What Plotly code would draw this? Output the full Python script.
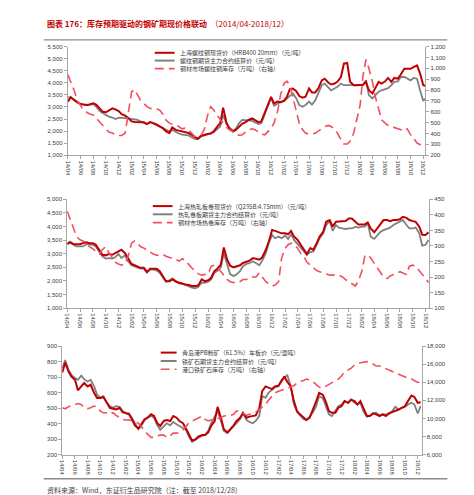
import plotly.graph_objects as go

W, H = 474, 495

# ---------------- categories (semi-monthly dates, 2014/04 - 2018/12) ----------------
month_list = [(2014 + (3 + k) // 12, (3 + k) % 12 + 1) for k in range(57)]
dates = [f"{y}-{m:02d}-{d:02d}" for (y, m) in month_list for d in (1, 15)]

# ---------------- panel 1: rebar ----------------
rebar_spot = [3220,3390, 3300,3200, 3120,3100, 3080,3100, 3150,3100, 2950,2800, 2780,2850, 2940,2900,
              2830,2700, 2640,2550, 2400,2380, 2380,2400, 2370,2290, 2370,2330, 2260,2200, 2120,2000,
              1920,2150, 2050,2020, 1985,1950, 1920,1850, 1750,1680, 1810,1850, 1880,1900, 1985,2150,
              2330,2970, 2350,2100, 1985,2050, 2190,2300, 2370,2460, 2530,2450, 2370,2400, 2800,3080,
              3420,3150, 3220,3200, 3260,3420, 3740,3760, 3650,3450, 3380,3420, 3760,3600, 3600,3760,
              4100,4170, 4010,3930, 3970,4040, 4240,4790, 4820,4040, 3900,3900, 3900,3920, 4040,3690,
              3560,3760, 4040,3970, 4060,4200, 4040,4200, 4170,4340, 4580,4580, 4580,4650, 4720,4400,
              3900,3870]
rebar_futures = [3380,3420, 3280,3200, 3120,3100, 3080,3100, 3120,3010, 2830,2750, 2670,2600, 2560,2500,
                 2560,2560, 2530,2530, 2500,2480, 2460,2400, 2330,2290, 2370,2330, 2290,2200, 2120,2050,
                 1985,2050, 1960,1900, 1850,1830, 1820,1750, 1680,1660, 1780,1820, 1850,1900, 1960,2050,
                 2190,2670, 2300,2150, 2010,2100, 2330,2460, 2460,2440, 2420,2350, 2290,2320, 2700,3010,
                 3380,3050, 3150,3200, 3240,3350, 3420,3560, 3350,3080, 3010,3080, 3220,3100, 3280,3560,
                 3900,3970, 3830,3690, 3760,3830, 3970,3900, 3900,3900, 3900,3900, 3900,3920, 4100,3490,
                 3350,3490, 3630,3690, 3740,3780, 3900,4040, 4060,4240, 4240,4170, 4100,4200, 4170,3700,
                 3250,3380]
rebar_stock = [942,875, 799,708, 662,616, 595,580, 571,540, 504,470, 434,413, 404,388,
               382,382, 404,580, 784,805, 753,708, 677,647, 632,626, 626,616, 577,525,
               495,486, 474,464, 443,449, 434,404, 373,373, 388,434, 571,647, 616,571,
               525,495, 455,434, 419,404, 382,388, 413,434, 443,435, 413,394, 388,419,
               449,495, 601,753, 860,881, 844,738, 616,495, 434,404, 394,394, 404,425,
               449,464, 474,464, 443,404, 343,303, 303,328, 404,510, 662,936, 1081,1000,
               875,738, 616,525, 495,474, 464,455, 449,434, 425,443, 388,358, 312,297,
               312,322]

# ---------------- panel 2: hot rolled coil ----------------
hrc_spot = [3350,3420, 3350,3350, 3350,3390, 3420,3390, 3390,3330, 3145,2960, 2940,2990, 2960,3020,
            3085,3145, 3020,2840, 2625,2575, 2540,2480, 2480,2330, 2450,2450, 2450,2360, 2175,1990,
            1990,2055, 1970,1930, 1900,1870, 1850,1810, 1810,1830, 2055,1990, 2020,2115, 2360,2450,
            2600,3230, 2780,2560, 2500,2540, 2575,2660, 2700,2745, 2840,2800, 2780,2870, 3145,3450,
            3870,3840, 3790,3750, 3750,3715, 3840,3630, 3510,3330, 3145,2990, 3210,3145, 3390,3630,
            3810,4175, 4240,3995, 4175,4175, 4175,4200, 4300,4300, 4175,4080, 4080,4080, 4150,3930,
            3790,3930, 4115,4240, 4240,4200, 4240,4240, 4270,4360, 4320,4240, 4200,4175, 3995,3700,
            3690,3790]
hrc_futures = [3390,3450, 3330,3270, 3270,3270, 3350,3330, 3330,3270, 3085,2900, 2820,2840, 2820,2870,
               2990,2840, 2940,2720, 2575,2540, 2500,2450, 2450,2300, 2420,2420, 2380,2300, 2115,1970,
               2020,2090, 1990,1900, 1900,1850, 1810,1750, 1730,1775, 1930,1930, 1970,2055, 2300,2360,
               2500,3020, 2600,2250, 2175,2240, 2360,2540, 2625,2650, 2720,2650, 2575,2745, 3020,3390,
               3690,3570, 3630,3570, 3670,3545, 3715,3510, 3350,3210, 3060,2960, 3060,3085, 3330,3570,
               3750,4055, 4200,3840, 4055,3960, 3930,3910, 3930,3930, 3995,3960, 3995,3995, 4115,3630,
               3545,3690, 3810,3870, 3910,3960, 4055,4115, 4200,4240, 4055,3930, 3930,3960, 3750,3300,
               3330,3510]
hrc_stock = [412,383, 357,330, 320,316, 309,298, 291,282, 274,288, 298,280, 263,248,
             242,238, 242,265, 309,316, 309,298, 293,288, 280,274, 270,271, 272,267,
             263,261, 256,251, 259,253, 238,229, 219,210, 206,208, 210,235, 238,232,
             219,206, 192,185, 182,187, 185,192, 192,198, 200,200, 213,200, 185,178,
             171,174, 185,261, 293,304, 309,304, 293,277, 267,248, 238,232, 221,217,
             213,208, 206,206, 208,206, 200,192, 185,178, 171,187, 219,267, 272,261,
             245,229, 213,200, 195,203, 208,213, 217,213, 208,235, 238,235, 219,208,
             198,182]

# ---------------- panel 3: iron ore ----------------
ore_spot = [730,794, 736,704, 683,615, 640,662, 640,651, 598,566, 566,572, 534,502,
            496,491, 502,474, 466,460, 428,389, 368,396, 428,438, 460,449, 402,385,
            417,423, 417,449, 438,417, 402,368, 321,289, 300,317, 326,326, 343,385,
            417,508, 438,364, 343,364, 389,417, 438,470, 438,445, 449,453, 500,610,
            640,630, 623,640, 645,672, 704,670, 640,550, 481,460, 438,423, 438,481,
            545,598, 587,545, 481,470, 470,502, 513,545, 534,555, 545,523, 545,502,
            449,449, 466,460, 449,460, 449,466, 474,481, 491,502, 513,545, 581,572,
            534,538]
ore_futures = [757,811, 747,715, 694,683, 709,687, 672,683, 640,587, 566,577, 534,513,
               502,513, 508,481, 470,466, 438,402, 364,385, 423,438, 449,438, 389,360,
               385,402, 389,411, 396,385, 374,360, 311,283, 296,311, 321,326, 353,402,
               445,481, 417,353, 338,360, 381,406, 428,466, 423,411, 402,417, 450,577,
               566,598, 619,636, 640,683, 694,715, 640,530, 474,453, 428,423, 449,470,
               513,577, 566,513, 460,449, 481,513, 523,545, 534,555, 534,523, 534,481,
               445,449, 466,470, 453,460, 460,460, 481,508, 491,502, 508,523, 534,523,
               465,513]
ore_stock = [11180,11070, 11290,11435, 11545,11655, 11545,11180, 11070,11180, 11360,11300, 10815,10630, 10630,10450,
             10630,10340, 10085,9900, 9830,9850, 9720,9610, 9465,9100, 8625,8260, 7900,7900, 8080,8150,
             8150,7900, 8080,8370, 8370,8445, 8735,9100, 9540,9720, 9900,10085, 10265,9900, 9720,9830,
             9900,9975, 10085,10265, 10265,10340, 10450,10815, 10800,10550, 10340,10450, 10560,10705, 11000,11270,
             11545,12020, 12455,12820, 13000,13110, 13260,13370, 13550,13620, 13915,14100, 14205,14355, 14280,14100,
             13735,13475, 13370,13550, 13735,13915, 14100,14355, 14715,15190, 15375,15555, 15920,16100, 16175,16250,
             16285,16250, 16030,15810, 15810,15665, 15555,15375, 15190,15080, 14825,14715, 14570,14460, 14355,14205,
             13990,14100]

# ---------------- texts ----------------
title_text = "<b>图表 176：库存预期驱动的钢矿期现价格联动</b>  （2014/04-2018/12）"
source_text = "资料来源：Wind，东证衍生品研究院（注：截至 2018/12/28）"
names_1 = ["上海螺纹钢现货价（HRB400 20mm）（元/吨）", "螺纹钢期货主力合约结算价（元/吨）", "钢材市场螺纹钢库存（万吨）（右轴）"]
names_2 = ["上海热轧板卷现货价（Q235B:4.75mm）（元/吨）", "热轧卷板期货主力合约结算价（元/吨）", "钢材市场热卷库存（万吨）（右轴）"]
names_3 = ["青岛港PB粉矿（61.5%）车板价（元/湿吨）", "铁矿石期货主力合约结算价（元/吨）", "港口铁矿石库存（万吨）（右轴）"]

RED = "#C00000"
GRAY = "#808080"
PINK = "#F0505F"
AX = "#A6A6A6"
TXT = "#404040"
NUMFONT = "Liberation Sans, Arial, Noto Sans CJK SC, sans-serif"
CJK = "Noto Sans CJK SC, Liberation Sans, sans-serif"
DASH = "9px,5px"

panels = [
    dict(spot=rebar_spot, fut=rebar_futures, inv=rebar_stock, names=names_1,
         xpx=(57.3, 417.7), ypx=(36.0, 146.0), xend="2018-12-10",
         yl=(1000, 5500), yldt=500, yr=(200, 1200), yrdt=100,
         leg_x=(145, 165), leg_tx=168, leg_y=(42.3, 50.2, 58.3)),
    dict(spot=hrc_spot, fut=hrc_futures, inv=hrc_stock, names=names_2,
         xpx=(56.7, 421.7), ypx=(190.7, 300.7), xend="2018-12-18",
         yl=(1000, 5000), yldt=500, yr=(100, 450), yrdt=50,
         leg_x=(143, 163), leg_tx=166, leg_y=(197.5, 205.8, 214.2)),
    dict(spot=ore_spot, fut=ore_futures, inv=ore_stock, names=names_3,
         xpx=(51.7, 414.0), ypx=(339.3, 449.0), xend="2018-12-19",
         yl=(200, 900), yldt=100, yr=(6000, 18000), yrdt=2000,
         leg_x=(151, 167), leg_tx=170, leg_y=(345.8, 354.3, 362.7)),
]

fig = go.Figure()
axis_common = dict(showline=True, linecolor=AX, linewidth=1, ticks="outside", tickcolor=AX,
                   ticklen=3, tickwidth=1, showgrid=False, zeroline=False,
                   tickfont=dict(size=6, color=TXT, family=NUMFONT), fixedrange=True)
layout_axes = {}
shapes = []
annotations = []

for i, p in enumerate(panels, start=1):
    xa = "x" if i == 1 else f"x{i}"
    ylk = "y" if i == 1 else f"y{2*i-1}"
    yrk = f"y{2*i}"
    n = len(dates)
    fig.add_trace(go.Scatter(x=dates[:len(p["fut"])], y=p["fut"], xaxis=xa, yaxis=ylk, mode="lines",
                             line=dict(color=GRAY, width=1.8), name=p["names"][1], showlegend=False))
    fig.add_trace(go.Scatter(x=dates[:len(p["spot"])], y=p["spot"], xaxis=xa, yaxis=ylk, mode="lines",
                             line=dict(color=RED, width=2), name=p["names"][0], showlegend=False))
    fig.add_trace(go.Scatter(x=dates[:len(p["inv"])], y=p["inv"], xaxis=xa, yaxis=yrk, mode="lines",
                             line=dict(color=PINK, width=1.6, dash=DASH), name=p["names"][2], showlegend=False))

    x0, x1 = p["xpx"]
    y0, y1 = p["ypx"]
    xkey = "xaxis" if i == 1 else f"xaxis{i}"
    ylkey = "yaxis" if i == 1 else f"yaxis{2*i-1}"
    yrkey = f"yaxis{2*i}"
    layout_axes[xkey] = dict(domain=[x0 / W, x1 / W], anchor=ylk, type="date",
                             range=["2014-04-01", p["xend"]], tickformat="%y/%m", dtick="M2",
                             tick0="2014-04-01", tickangle=90, **axis_common)
    layout_axes[ylkey] = dict(domain=[1 - y1 / H, 1 - y0 / H], anchor=xa, range=list(p["yl"]),
                              dtick=p["yldt"], tick0=p["yl"][0], tickformat=",", **axis_common)
    layout_axes[yrkey] = dict(overlaying=ylk, side="right", anchor=xa, range=list(p["yr"]),
                              dtick=p["yrdt"], tick0=p["yr"][0], tickformat=",", **axis_common)

    # legend (drawn manually to match the compact Excel legend)
    styles = [dict(color=RED, width=2), dict(color=GRAY, width=2), dict(color=PINK, width=1.6, dash=DASH)]
    for k in range(3):
        ly = 1 - p["leg_y"][k] / H
        shapes.append(dict(type="line", xref="paper", yref="paper",
                           x0=p["leg_x"][0] / W, x1=p["leg_x"][1] / W, y0=ly, y1=ly, line=styles[k]))
        annotations.append(dict(text=p["names"][k], xref="paper", yref="paper", x=p["leg_tx"] / W, y=ly,
                                xanchor="left", yanchor="middle", showarrow=False,
                                font=dict(size=6, color=TXT, family=CJK)))

# title, rules, source
annotations.append(dict(text=title_text, xref="paper", yref="paper", x=34 / W, y=1 - 12.5 / H,
                        xanchor="left", yanchor="middle", showarrow=False,
                        font=dict(size=8, color=RED, family=CJK)))
annotations.append(dict(text=source_text, xref="paper", yref="paper", x=34 / W, y=1 - 485 / H,
                        xanchor="left", yanchor="middle", showarrow=False,
                        font=dict(size=7, color=TXT, family=CJK)))
for yy in (29.3, 473.5):
    shapes.append(dict(type="line", xref="paper", yref="paper", x0=33 / W, x1=440 / W,
                       y0=1 - yy / H, y1=1 - yy / H, line=dict(color="#8C8C8C", width=1.3)))

fig.update_layout(width=W, height=H, margin=dict(l=0, r=0, t=0, b=0),
                  paper_bgcolor="white", plot_bgcolor="white", showlegend=False,
                  shapes=shapes, annotations=annotations, **layout_axes)

fig.write_html("out.html")
